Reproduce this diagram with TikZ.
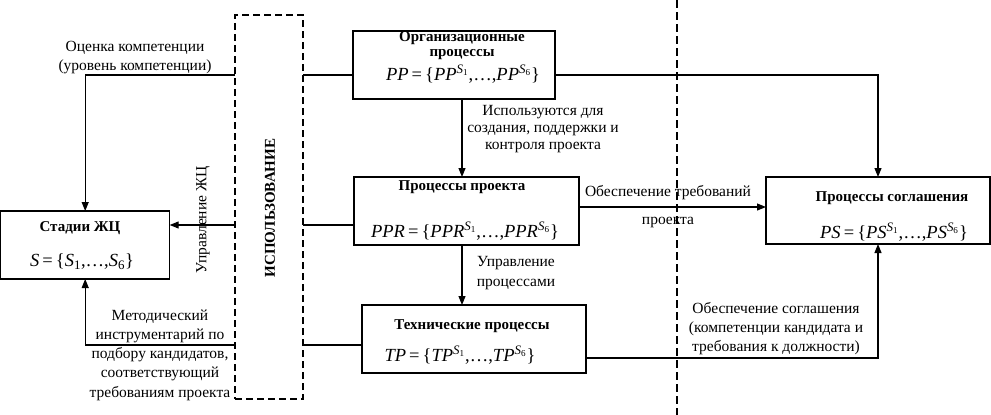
\documentclass[tikz,border=0pt]{standalone}
\usepackage{fontspec}
\setmainfont{Liberation Serif}
\usetikzlibrary{arrows.meta}
\newcommand\fset[1]{\textit{#1}\,=\,\{\textit{#1}\textsuperscript{\textit{S}\textsubscript{1}},\ldots,\textit{#1}\textsuperscript{\textit{S}\textsubscript{6}}\}}
\tikzset{
  box/.style={draw, line width=1.3pt, inner sep=0pt, outer sep=0pt, anchor=north west},
  ubox/.style={draw, dash pattern=on 7pt off 4pt, line width=1.3pt, inner sep=0pt, outer sep=0pt, anchor=north west},
  divline/.style={dash pattern=on 8pt off 4pt, line width=1.6pt},
  conn/.style={line width=1.1pt},
  arr/.style={conn, -{Triangle[length=9pt,width=7pt]}},
  lbl/.style={font=\fontsize{15.5}{19}\selectfont, align=center, inner sep=0pt},
  ttl/.style={font=\bfseries\fontsize{15}{15}\selectfont, align=center, inner sep=0pt},
  fml/.style={font=\fontsize{18.5}{20}\selectfont, inner sep=0pt}
}
\begin{document}
\begin{tikzpicture}[x=1pt,y=-1pt]
\useasboundingbox (0,0) rectangle (991,415);
% dashed divider
\coordinate (dtop) at (677,0);
\coordinate (dbot) at (677,415);
\draw[divline] (dtop) -- (dbot);
% boxes
\node[box, minimum width=202pt, minimum height=68pt] (org) at (353,31) {};
\node[box, minimum width=225pt, minimum height=68pt] (ppr) at (354,177) {};
\node[box, minimum width=224pt, minimum height=68pt] (tp) at (362,305) {};
\node[box, minimum width=224pt, minimum height=67pt] (ps) at (766,177) {};
\node[box, minimum width=169pt, minimum height=68pt] (st) at (0.7,211) {};
\node[ubox, minimum width=68pt, minimum height=384pt] (use) at (235,15) {};
% box texts
\node[ttl] (orgT) at (462,45.5) {Организационные\\процессы};
\node[fml] (orgF) at (463,74) {\fset{PP}};
\node[ttl] (pprT) at (462,187) {Процессы проекта};
\node[fml] (pprF) at (465,231) {\fset{PPR}};
\node[ttl] (tpT) at (472,326) {Технические процессы};
\node[fml] (tpF) at (460,355) {\fset{TP}};
\node[ttl] (psT) at (892,198) {Процессы соглашения};
\node[fml] (psF) at (894,232) {\fset{PS}};
\node[ttl] (stT) at (80,228) {Стадии ЖЦ};
\node[fml] (stF) at (82,262) {\textit{S}\,=\,\{\textit{S}\textsubscript{1},\ldots,\textit{S}\textsubscript{6}\}};
\node[ttl, rotate=90] (useT) at (270,208) {ИСПОЛЬЗОВАНИЕ};
% connector coordinates
\coordinate (orgW) at ([yshift=-44pt]org.north west);
\coordinate (orgE) at ([yshift=-44pt]org.north east);
\coordinate (a1) at ([xshift=8pt]org.south);
\coordinate (a2) at ([xshift=-4.5pt]ppr.south);
\coordinate (pprW) at ([yshift=-48pt]ppr.north west);
\coordinate (pprE) at ([yshift=-30pt]ppr.north east);
\coordinate (tpW) at ([yshift=-40pt]tp.north west);
\coordinate (tpE) at ([yshift=-53pt]tp.north east);
% connectors
\draw[conn] (orgW) -- (orgW -| use.east);
\draw[arr] (orgW -| use.west) -| (st.north);
\draw[arr] (orgE) -| (ps.north);
\draw[arr] (a1) -- (a1 |- ppr.north);
\draw[arr] (a2) -- (a2 |- tp.north);
\draw[conn] (pprW) -- (pprW -| use.east);
\draw[arr] (pprW -| use.west) -- (pprW -| st.east);
\draw[arr] (pprE) -- (pprE -| ps.west);
\draw[conn] (tpW) -- (tpW -| use.east);
\draw[arr] (tpW -| use.west) -| (st.south);
\draw[arr] (tpE) -| (ps.south);
% labels
\node[lbl] (l1) at (135,57.5) {Оценка компетенции\\(уровень компетенции)};
\node[lbl, font=\fontsize{15.5}{17}\selectfont] (l2) at (543,129) {Используются для\\создания, поддержки и\\контроля проекта};
\node[lbl, rotate=90] (l3) at (203,220) {Управление ЖЦ};
\node[lbl] (l5) at (668,207) {Обеспечение требований\\[9pt]проекта};
\node[lbl, font=\fontsize{15.5}{20}\selectfont] (l6) at (516,273) {Управление\\процессами};
\node[lbl, font=\fontsize{15.5}{19.3}\selectfont] (l7) at (160,355) {Методический\\инструментарий по\\подбору кандидатов,\\соответствующий\\требованиям проекта};
\node[lbl] (l8) at (776,329) {Обеспечение соглашения\\(компетенции кандидата и\\требования к должности)};
\end{tikzpicture}
\end{document}
